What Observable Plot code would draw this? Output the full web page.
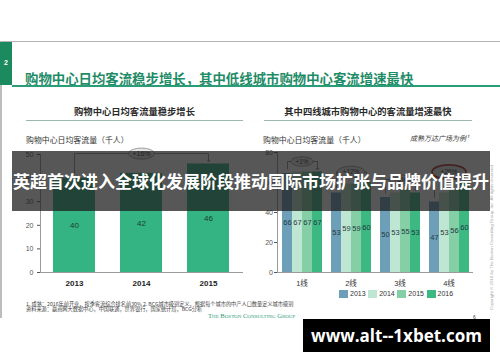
<!DOCTYPE html>
<html><head><meta charset="utf-8">
<script src="https://cdn.jsdelivr.net/npm/d3@7"></script>
<script src="https://cdn.jsdelivr.net/npm/@observablehq/plot@0.6"></script>
<style>
html,body{margin:0;padding:0;background:#fff;}
#page{position:relative;width:500px;height:362px;overflow:hidden;background:#fff;font-family:"Liberation Sans","Noto Sans CJK SC",sans-serif;}
.abs{position:absolute;white-space:nowrap;}
.c{text-align:center;}
#left,#right{position:absolute;top:130px;}
#left{left:0;}
#right{left:240px;}
</style></head><body>
<div id="page">
  <div class="abs" style="left:0;top:41px;width:500px;height:1px;background:#b4b4b4"></div>
  <div class="abs" style="left:0;top:41px;width:2px;height:277px;background:#bdbdbd"></div>
  <div class="abs" style="left:0;top:42px;width:12px;height:43px;background:#1b8a5f"></div>
  <div class="abs c" style="left:0;top:59px;width:12px;font-size:7px;line-height:8px;color:#fff;font-weight:bold">2</div>
  <div class="abs" style="left:25px;top:71px;font-size:13.4px;line-height:14px;color:#1f8c68;font-weight:bold;font-family:'Noto Sans CJK SC',sans-serif">购物中心日均客流稳步增长，其中低线城市购物中心客流增速最快</div>
  <div class="abs" style="left:12px;top:85px;width:488px;height:1.5px;background:#2a9c77"></div>

  <div class="abs c" style="left:26px;top:106px;width:217px;font-size:9.3px;line-height:10px;color:#2a2a2a;font-weight:bold;font-family:'Noto Sans CJK SC',sans-serif">购物中心日均客流量稳步增长</div>
  <div class="abs" style="left:26px;top:120px;width:217px;height:1px;background:#9cb8ad"></div>
  <div class="abs c" style="left:264px;top:106px;width:208px;font-size:9.3px;line-height:10px;color:#2a2a2a;font-weight:bold;font-family:'Noto Sans CJK SC',sans-serif">其中四线城市购物中心的客流量增速最快</div>
  <div class="abs" style="left:264px;top:120px;width:208px;height:1px;background:#9cb8ad"></div>

  <div class="abs" style="left:26px;top:136px;font-size:7.9px;line-height:8px;color:#333;font-family:'Noto Sans CJK SC',sans-serif">购物中心日均客流量（千人）</div>
  <div class="abs" style="left:263px;top:136px;font-size:7.9px;line-height:8px;color:#333;font-family:'Noto Sans CJK SC',sans-serif">购物中心日均客流量（千人）</div>
  <div class="abs" style="left:410px;top:134.5px;font-size:7px;line-height:7px;color:#333;font-style:italic;font-family:'Noto Sans CJK SC',sans-serif">成熟万达广场为例¹</div>

  <div id="left"></div>
  <div id="right"></div>

  <div id="legend" class="abs" style="left:339px;top:290px;display:flex;align-items:center;font-size:7px;line-height:8px;color:#333"></div>

  <div class="abs" style="left:26px;top:302px;font-size:5.2px;line-height:4.6px;color:#444;font-family:'Noto Sans CJK SC',sans-serif">1. 成熟：2016年前开业，按季客流综合排名前30% 2. BCG城市级别定义，根据每个城市的中产人口数量定义城市级别<br>资料来源：赢商网大数据中心，中国联通，世界银行，国家统计局，BCG分析</div>
  <div class="abs" style="left:208px;top:311.5px;font-size:6.6px;line-height:7px;color:#2d9a78;font-variant:small-caps;font-family:'Liberation Serif',serif">The Boston Consulting Group</div>
  <div class="abs" style="left:473px;top:314.5px;font-size:5px;line-height:5px;color:#444">6</div>
  <div class="abs" style="left:489px;top:310px;font-size:4.4px;line-height:5px;color:#a8a8a8;transform-origin:0 0;transform:rotate(-90deg)">Copyright © 2016 by The Boston Consulting Group, Inc. All rights reserved.</div>

  <div class="abs c" style="left:12px;top:151px;width:478px;height:60px;background:rgba(28,28,28,0.74);color:#fff;font-size:17px;line-height:60px;font-weight:bold;font-family:'Noto Sans CJK SC',sans-serif">英超首次进入全球化发展阶段推动国际市场扩张与品牌价值提升</div>
  <div class="abs c" style="left:303px;top:319px;width:187px;height:33px;background:#000;color:#fff;font-size:17px;line-height:33px;font-weight:bold;font-family:'Open Sans',sans-serif">www.alt--1xbet.com</div>
</div>
<script>
// ---- data ----
const years = ["2013", "2014", "2015"];
const dailyFlow = [40, 42, 46];
const totalGrowth = "+16%";
const leftTicks = [0, 10, 20, 30, 40, 50];

const tiers = ["1线", "2线", "3线", "4线"];
const tierYears = ["2013", "2014", "2015", "2016"];
const tier1 = [66, 67, 67, 67];
const tier2 = [53, 59, 59, 60];
const tier3 = [50, 53, 55, 53];
const tier4 = [47, 53, 56, 60];
const tierGrowth = ["+1%", "+12%", "+6%", "+26%"];
const highlightTier = "4线";
const rightTicks = [0, 20, 40, 60, 80];

// ---- styles ----
const leftColor = "#34b383";
const tierColors = ["#6e9fb9", "#bfe6d2", "#84cfa6", "#3cb883"];
const axisGray = "#9a9a9a";
const font = "'Liberation Sans','Noto Sans CJK SC',sans-serif";

const ellipse = {
  draw(ctx, size) {
    const rx = Math.sqrt(size / Math.PI), ry = rx * 0.42, k = 0.5523;
    ctx.moveTo(rx, 0);
    ctx.bezierCurveTo(rx, ry * k, rx * k, ry, 0, ry);
    ctx.bezierCurveTo(-rx * k, ry, -rx, ry * k, -rx, 0);
    ctx.bezierCurveTo(-rx, -ry * k, -rx * k, -ry, 0, -ry);
    ctx.bezierCurveTo(rx * k, -ry, rx, -ry * k, rx, 0);
    ctx.closePath();
  }
};

function bracket(cats, vals, pad, extra = {}) {
  const top = Math.max(...vals) + pad;
  const n = cats.length - 1;
  return {
    top,
    pts: [
      {...extra, cat: cats[0], v: vals[0] + 0.42 * pad},
      {...extra, cat: cats[0], v: top},
      {...extra, cat: cats[n], v: top},
      {...extra, cat: cats[n], v: vals[n] + 0.28 * pad}
    ]
  };
}

// ---- left chart ----
const leftData = years.map((y, i) => ({year: y, v: dailyFlow[i]}));
const bL = bracket(years, dailyFlow, 4.4);
const leftChart = Plot.plot({
  width: 250, height: 160,
  marginLeft: 40, marginRight: 7, marginTop: 24, marginBottom: 18,
  style: {fontFamily: font, background: "transparent", overflow: "visible"},
  x: {domain: years, paddingInner: 0.37, paddingOuter: 0.185, axis: null},
  y: {domain: [0, 50], axis: null},
  marks: [
    Plot.barY(leftData, {x: "year", y: "v", fill: leftColor}),
    Plot.frame({anchor: "left", stroke: axisGray}),
    Plot.ruleY([0], {stroke: axisGray}),
    Plot.axisY({ticks: leftTicks, tickSize: 3, tickPadding: 4, fontSize: 7, color: "#555", label: null}),
    Plot.axisX({tickSize: 0, tickPadding: 8, fontSize: 8, fontWeight: "bold", color: "#222", label: null}),
    Plot.text(leftData, {x: "year", y: d => d.v / 2, text: d => String(d.v), fontSize: 8, fill: "#1d3d30"}),
    Plot.line(bL.pts, {x: "cat", y: "v", stroke: "#777", strokeWidth: 0.8, markerEnd: "arrow"}),
    Plot.dot([totalGrowth], {x: () => years[1], y: () => bL.top, symbol: ellipse, r: 13, fill: "#e4e4e4", stroke: "#888", strokeWidth: 0.8}),
    Plot.text([totalGrowth], {x: () => years[1], y: () => bL.top, text: d => d, fontSize: 7, fill: "#333"})
  ]
});
document.getElementById("left").append(leftChart);

// ---- right chart ----
const tierValues = [tier1, tier2, tier3, tier4];
const tierData = tiers.flatMap((t, i) => tierYears.map((y, j) => ({tier: t, year: y, v: tierValues[i][j]})));
const bracketsR = tiers.map((t, i) => bracket(tierYears, tierValues[i], 7, {tier: t}));
const bracketPts = bracketsR.flatMap(b => b.pts);
const growthR = tiers.map((t, i) => ({tier: t, label: tierGrowth[i], level: bracketsR[i].top}));

const rightChart = Plot.plot({
  width: 260, height: 160,
  marginLeft: 35, marginRight: 26, marginTop: 22, marginBottom: 18,
  style: {fontFamily: font, background: "transparent", overflow: "visible"},
  fx: {domain: tiers, padding: 0, axis: null, label: null},
  x: {domain: tierYears, paddingInner: 0, paddingOuter: 0.314, axis: null},
  y: {domain: [0, 80], axis: null},
  r: {type: "identity"},
  color: {domain: tierYears, range: tierColors},
  marks: [
    Plot.barY(tierData, {fx: "tier", x: "year", y: "v", fill: "year"}),
    Plot.frame({anchor: "left", facetAnchor: "left", stroke: axisGray}),
    Plot.ruleY([0], {stroke: axisGray}),
    Plot.axisY({ticks: rightTicks, tickSize: 3, tickPadding: 1.5, fontSize: 7, color: "#555", label: null}),
    Plot.axisFx({anchor: "bottom", tickSize: 0, tickPadding: 8, fontSize: 7.5, color: "#333", label: null}),
    Plot.text(tierData, {fx: "tier", x: "year", y: d => d.v / 2, text: d => String(d.v), fontSize: 7.5, fill: "#1f3a40"}),
    Plot.line(bracketPts, {fx: "tier", x: "cat", y: "v", z: "tier", stroke: "#777", strokeWidth: 0.8, markerEnd: "arrow"}),
    Plot.dot(growthR.filter(d => d.tier !== highlightTier), {fx: "tier", y: "level", symbol: ellipse, r: d => 3 + 2.7 * d.label.length, fill: "#e6e6e6", stroke: "#888", strokeWidth: 0.8}),
    Plot.dot(growthR.filter(d => d.tier === highlightTier), {fx: "tier", y: "level", symbol: ellipse, r: 17, fill: "#e6e6e6", stroke: "#b23434", strokeWidth: 1.8}),
    Plot.text(growthR, {fx: "tier", y: "level", text: "label", fontSize: 6.5, fill: "#333"})
  ]
});
document.getElementById("right").append(rightChart);

// ---- legend (from the same colour scale) ----
const legend = document.getElementById("legend");
tierYears.forEach((y, i) => {
  const item = document.createElement("span");
  item.style.cssText = "display:inline-flex;align-items:center;margin-right:2.6px";
  const sw = document.createElement("span");
  sw.style.cssText = `display:inline-block;width:9px;height:8px;background:${tierColors[i]};margin-right:2px`;
  const tx = document.createElement("span");
  tx.textContent = y;
  item.append(sw, tx);
  legend.append(item);
});
</script>
</body></html>
